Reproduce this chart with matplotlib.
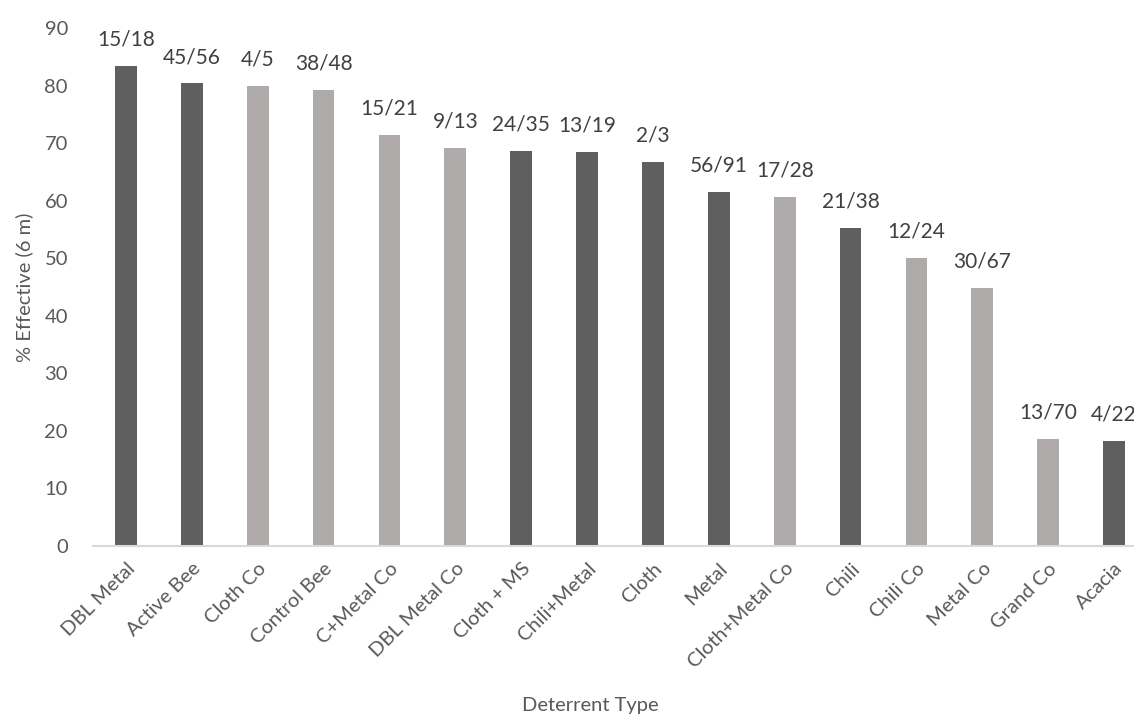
import matplotlib.pyplot as plt
import numpy as np

plt.rcParams['font.family'] = ['Lato', 'DejaVu Sans']

# Deterrent types, successes and trials
tipos = ['DBL Metal', 'Active Bee', 'Cloth Co', 'Control Bee', 'C+Metal Co',
         'DBL Metal Co', 'Cloth + MS', 'Chili+Metal', 'Cloth', 'Metal',
         'Cloth+Metal Co', 'Chili', 'Chili Co', 'Metal Co', 'Grand Co', 'Acacia']
sucessos = [15, 45, 4, 38, 15, 9, 24, 13, 2, 56, 17, 21, 12, 30, 13, 4]
tentativas = [18, 56, 5, 48, 21, 13, 35, 19, 3, 91, 28, 38, 24, 67, 70, 22]
# controles ficam em cinza claro
controle = [False, False, True, True, True, True, False, False, False, False,
            True, False, True, True, True, False]

efetivo = 100 * np.array(sucessos) / np.array(tentativas)
cores = ['#afabab' if c else '#5f5f5f' for c in controle]

fig = plt.figure(figsize=(11.34, 7.27), dpi=100)
ax = fig.add_axes([0.082, 0.249, 0.9295, 0.7125])

x = np.arange(len(tipos))
ax.bar(x, efetivo, width=0.33, color=cores, zorder=2)

for xi, v, s, t in zip(x, efetivo, sucessos, tentativas):
    ax.annotate(f'{s}/{t}', (xi, v), xytext=(0, 19), textcoords='offset points',
                ha='center', va='center', fontsize=15, color='#404040')

ax.set_xlim(-0.5, len(tipos) - 0.5)
ax.set_ylim(0, 90)
ax.set_yticks(range(0, 91, 10))
ax.set_xticks(x)
ax.set_xticklabels(tipos, rotation=45, ha='right', va='top', rotation_mode='anchor')

ax.tick_params(axis='both', length=0, labelsize=14.5, labelcolor='#595959')
ax.tick_params(axis='y', pad=18)
ax.tick_params(axis='x', pad=10)

for lado in ['top', 'right', 'left']:
    ax.spines[lado].set_visible(False)
ax.spines['bottom'].set_color('#d9d9d9')
ax.spines['bottom'].set_linewidth(1.5)

ax.set_ylabel('% Effective (6 m)', fontsize=14.5, color='#595959', labelpad=8)
fig.text(590 / 1134, 1 - 705 / 727, 'Deterrent Type', fontsize=14.5,
         color='#595959', ha='center', va='center')

plt.savefig('out.png', dpi=100)
